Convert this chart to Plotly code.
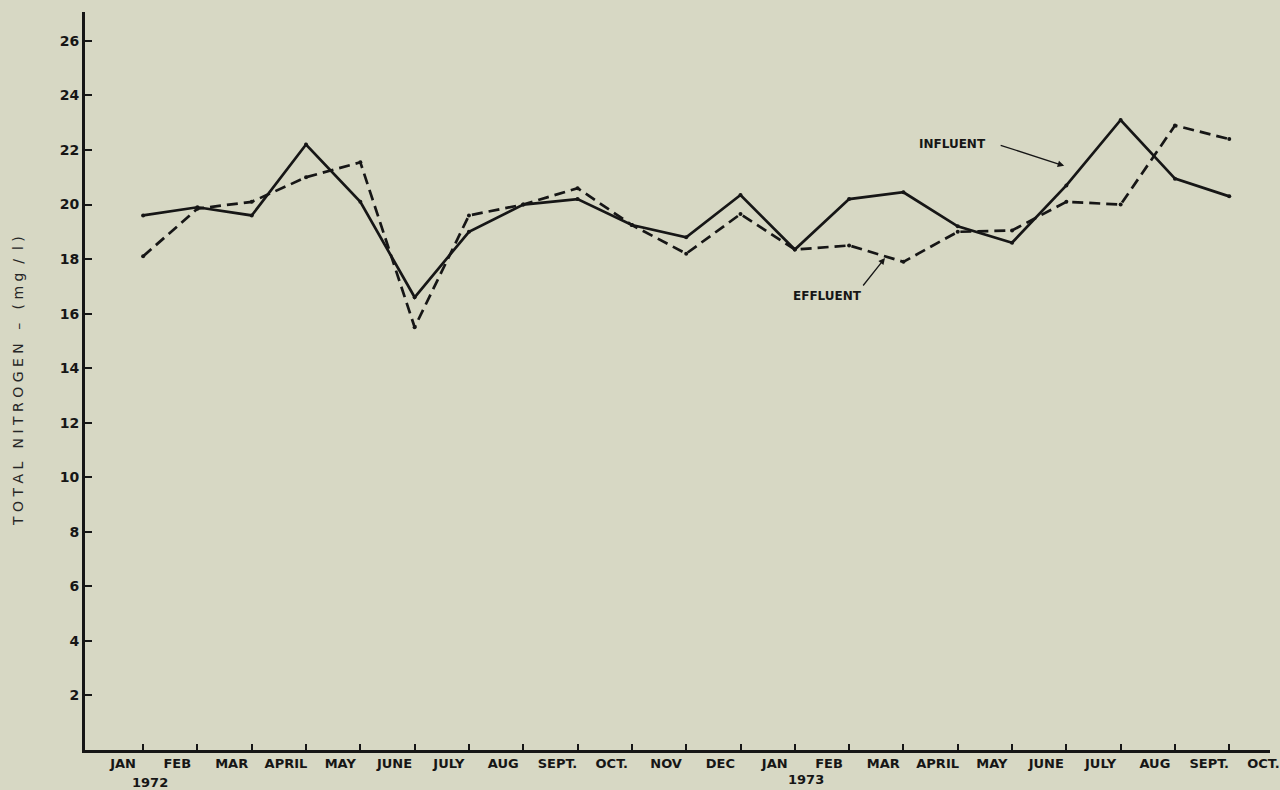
import plotly.graph_objects as go

# Monthly sampling, Jan 1972 - Sept 1973 (month index 0..20)
months = ["JAN", "FEB", "MAR", "APRIL", "MAY", "JUNE", "JULY", "AUG", "SEPT.", "OCT.", "NOV", "DEC",
          "JAN", "FEB", "MAR", "APRIL", "MAY", "JUNE", "JULY", "AUG", "SEPT.", "OCT."]
month_index = list(range(21))

influent = [19.6, 19.9, 19.6, 22.2, 20.1, 16.6, 19.0, 20.0, 20.2, 19.25, 18.8, 20.35,
            18.35, 20.2, 20.45, 19.2, 18.6, 20.7, 23.1, 20.95, 20.3]
effluent = [18.1, 19.85, 20.1, 21.0, 21.55, 15.5, 19.6, 20.0, 20.6, 19.25, 18.2, 19.65,
            18.35, 18.5, 17.9, 19.0, 19.05, 20.1, 20.0, 22.9, 22.4]

y_ticks = [2, 4, 6, 8, 10, 12, 14, 16, 18, 20, 22, 24, 26]
years = [("1972", 0.13, -32), ("1973", 12.2, -29)]

ink = "#161616"
bg = "#d7d8c4"
label_font = dict(family="DejaVu Sans", size=13, color=ink, weight="bold")

fig = go.Figure()

fig.add_trace(go.Scatter(
    x=month_index, y=influent, mode="lines+markers", name="INFLUENT",
    line=dict(color=ink, width=2.7),
    marker=dict(color=ink, size=4),
))
fig.add_trace(go.Scatter(
    x=month_index, y=effluent, mode="lines+markers", name="EFFLUENT",
    line=dict(color=ink, width=2.7, dash="11px,6px"),
    marker=dict(color=ink, size=4),
))

# invisible trace on the overlay axis so its tick marks are drawn
fig.add_trace(go.Scatter(x=month_index, y=influent, xaxis="x2", mode="lines",
                         line=dict(width=0), hoverinfo="skip", showlegend=False))

# month names sit just left of each tick
label_pos = [i - 0.37 for i in range(len(months))]

fig.update_layout(
    width=1280, height=790,
    margin=dict(l=85, r=10, t=12, b=40),
    paper_bgcolor=bg, plot_bgcolor=bg,
    showlegend=False,
    xaxis=dict(
        range=[-1.07, 20.75], tickmode="array", tickvals=label_pos, ticktext=months,
        ticks="", showgrid=False, zeroline=False, automargin=False,
        showline=True, linecolor=ink, linewidth=2.7,
        tickfont=label_font,
    ),
    xaxis2=dict(
        overlaying="x", matches="x", side="bottom", tickmode="array", tickvals=month_index,
        ticks="inside", ticklen=6, tickwidth=1.5, tickcolor=ink, automargin=False,
        showticklabels=False, showgrid=False, zeroline=False, showline=False,
    ),
    yaxis=dict(
        range=[0, 27.06], tickmode="array", tickvals=y_ticks,
        ticks="inside", ticklen=7, tickwidth=1.5, tickcolor=ink,
        showgrid=False, zeroline=False, automargin=False,
        showline=True, linecolor=ink, linewidth=2.7,
        tickfont=dict(family="DejaVu Sans", size=14, color=ink, weight="bold"),
    ),
)

# year labels under the month axis
for text, xpos, shift in years:
    fig.add_annotation(x=xpos, y=0, xref="x", yref="paper", text=text, showarrow=False,
                       yanchor="middle", yshift=shift, font=label_font)

# y-axis title
fig.add_annotation(
    x=-0.0565, y=0.5, xref="paper", yref="paper",
    text="T O T A L   N I T R O G E N   –   ( m g  /  l )",
    textangle=-90, showarrow=False, xanchor="center", yanchor="middle",
    font=dict(family="DejaVu Sans", size=14, color="#262626"),
)

# series call-outs
fig.add_annotation(x=16.96, y=21.42, xref="x", yref="y", text="",
                   showarrow=True, ax=-65, ay=-21, arrowhead=2, arrowsize=1,
                   arrowwidth=1.3, arrowcolor=ink)
fig.add_annotation(x=14.9, y=22.22, xref="x", yref="y", text="INFLUENT", showarrow=False,
                   font=dict(family="DejaVu Sans", size=12, color=ink, weight="bold"))

fig.add_annotation(x=13.66, y=18.04, xref="x", yref="y", text="",
                   showarrow=True, ax=-23, ay=29, arrowhead=2, arrowsize=1,
                   arrowwidth=1.3, arrowcolor=ink)
fig.add_annotation(x=12.61, y=16.65, xref="x", yref="y", text="EFFLUENT", showarrow=False,
                   font=dict(family="DejaVu Sans", size=12, color=ink, weight="bold"))

fig.write_html("out.html")
